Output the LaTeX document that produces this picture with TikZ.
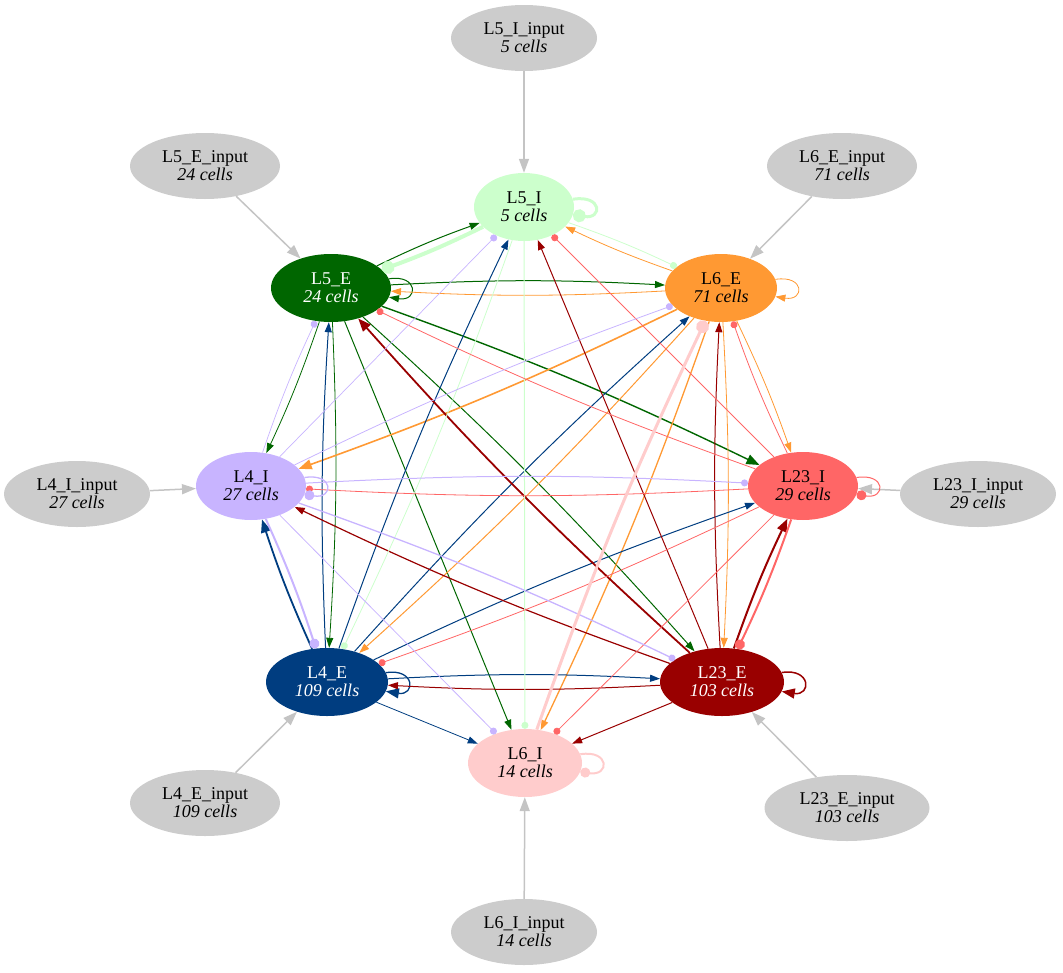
\documentclass[tikz,border=0pt]{standalone}
\usepackage{fontspec}
\setmainfont{Liberation Serif}
\usepackage{xcolor}
\usetikzlibrary{shapes.geometric,arrows.meta}

\definecolor{cL5I}{HTML}{CCFFCC}
\definecolor{cL5E}{HTML}{006600}
\definecolor{cL6E}{HTML}{FF9933}
\definecolor{cL4I}{HTML}{C8B4FF}
\definecolor{cL23I}{HTML}{FF6666}
\definecolor{cL4E}{HTML}{003D80}
\definecolor{cL23E}{HTML}{990000}
\definecolor{cL6I}{HTML}{FFCCCC}
\definecolor{cIn}{HTML}{CCCCCC}
\definecolor{cInLine}{HTML}{C4C4C4}

\begin{document}
\begin{tikzpicture}[x=1pt,y=1pt,
        pop/.style={ellipse,minimum height=68pt,inner sep=0pt,align=center,font=\fontsize{18}{18}\selectfont},
        feed/.style={pop,fill=cIn,minimum height=66pt},
        pair/.style={bend left=3},
        exc/.style={line width=1pt,-{Triangle[length=10pt,width=7pt]}},
        excm/.style={line width=1.8pt,-{Triangle[length=13pt,width=10pt]}},
        inh/.style={line width=0.8pt,-{Circle[length=7pt]}},
        inhm/.style={line width=1.6pt,-{Circle[length=10pt]}},
        inhb/.style={line width=3.5pt,-{Circle[length=13pt]}},
        feedline/.style={cInLine,line width=1.5pt,-{Triangle[length=14pt,width=10pt]}}]
    \useasboundingbox (0,0) rectangle (1063,-972);

    \node[pop,fill=cL5I,minimum width=100pt] (L5I) at (524,-207) {L5\_I\\\textit{5 cells}};
    \node[pop,fill=cL5E,text=white,minimum width=120pt] (L5E) at (331,-288) {L5\_E\\\textit{24 cells}};
    \node[pop,fill=cL6E,minimum width=112pt] (L6E) at (721,-288) {L6\_E\\\textit{71 cells}};
    \node[pop,fill=cL4I,minimum width=110pt] (L4I) at (251,-486) {L4\_I\\\textit{27 cells}};
    \node[pop,fill=cL23I,minimum width=110pt] (L23I) at (803,-486) {L23\_I\\\textit{29 cells}};
    \node[pop,fill=cL4E,text=white,minimum width=122pt] (L4E) at (327,-682) {L4\_E\\\textit{109 cells}};
    \node[pop,fill=cL23E,text=white,minimum width=124pt] (L23E) at (722,-682) {L23\_E\\\textit{103 cells}};
    \node[pop,fill=cL6I,minimum width=114pt] (L6I) at (525,-763) {L6\_I\\\textit{14 cells}};

    \node[feed,minimum width=146pt] (L5Iin) at (524,-38) {L5\_I\_input\\\textit{5 cells}};
    \node[feed,minimum width=150pt] (L5Ein) at (205,-166) {L5\_E\_input\\\textit{24 cells}};
    \node[feed,minimum width=150pt] (L6Ein) at (842,-166) {L6\_E\_input\\\textit{71 cells}};
    \node[feed,minimum width=146pt] (L4Iin) at (77,-494) {L4\_I\_input\\\textit{27 cells}};
    \node[feed,minimum width=156pt] (L23Iin) at (978,-494) {L23\_I\_input\\\textit{29 cells}};
    \node[feed,minimum width=150pt] (L4Ein) at (205,-803) {L4\_E\_input\\\textit{109 cells}};
    \node[feed,minimum width=165pt] (L23Ein) at (847,-808) {L23\_E\_input\\\textit{103 cells}};
    \node[feed,minimum width=146pt] (L6Iin) at (524,-932) {L6\_I\_input\\\textit{14 cells}};

    % inputs
    \draw[feedline] (L5Iin) -- (L5I);
    \draw[feedline] (L5Ein) -- (L5E);
    \draw[feedline] (L6Ein) -- (L6E);
    \draw[feedline] (L4Iin) -- (L4I);
    \draw[feedline] (L23Iin) -- (L23I);
    \draw[feedline] (L4Ein) -- (L4E);
    \draw[feedline] (L23Ein) -- (L23E);
    \draw[feedline] (L6Iin) -- (L6I);

    % excitatory
    \draw[exc,cL5E,pair] (L5E) to (L5I);
    \draw[exc,cL5E,pair] (L5E) to (L6E);
    \draw[excm,cL5E,pair,line width=1.4pt] (L5E) to (L23I);
    \draw[exc,cL5E,pair] (L5E) to (L23E);
    \draw[exc,cL5E] (L5E) to (L6I);
    \draw[exc,cL5E,pair,line width=0.8pt] (L5E) to (L4E);
    \draw[exc,cL5E,pair,line width=0.8pt] (L5E) to (L4I);
    \draw[exc,cL5E] (L5E.9) .. controls +(9:30) and +(-9:30) .. (L5E.-9);

    \draw[exc,cL6E,pair,line width=0.8pt] (L6E) to (L5I);
    \draw[exc,cL6E,pair,line width=0.8pt] (L6E) to (L5E);
    \draw[excm,cL6E,pair,line width=1.6pt] (L6E) to (L4I);
    \draw[exc,cL6E,pair] (L6E) to (L4E);
    \draw[exc,cL6E,pair,line width=1.3pt] (L6E) to (L6I);
    \draw[exc,cL6E,pair,line width=0.8pt] (L6E) to (L23E);
    \draw[exc,cL6E,pair,line width=0.8pt] (L6E) to (L23I);
    \draw[exc,cL6E,line width=0.8pt] (L6E.9) .. controls +(9:30) and +(-9:30) .. (L6E.-9);

    \draw[exc,cL4E,pair] (L4E) to (L5I);
    \draw[exc,cL4E,pair] (L4E) to (L5E);
    \draw[exc,cL4E,pair] (L4E) to (L6E);
    \draw[excm,cL4E,pair] (L4E) to (L4I);
    \draw[exc,cL4E,pair] (L4E) to (L23I);
    \draw[exc,cL4E,pair] (L4E) to (L23E);
    \draw[exc,cL4E,line width=0.8pt] (L4E) to (L6I);
    \draw[excm,cL4E,line width=1.3pt] (L4E.9) .. controls +(9:30) and +(-9:30) .. (L4E.-9);

    \draw[exc,cL23E] (L23E) to (L5I);
    \draw[excm,cL23E,pair] (L23E) to (L5E);
    \draw[exc,cL23E,pair] (L23E) to (L6E);
    \draw[exc,cL23E,pair,line width=1.2pt] (L23E) to (L4I);
    \draw[exc,cL23E,pair] (L23E) to (L4E);
    \draw[exc,cL23E] (L23E) to (L6I);
    \draw[excm,cL23E,pair,line width=2pt] (L23E) to (L23I);
    \draw[excm,cL23E,line width=1.5pt] (L23E.9) .. controls +(9:30) and +(-9:30) .. (L23E.-9);

    % inhibitory
    \draw[inhb,cL5I,pair,line width=4pt] (L5I) to (L5E);
    \draw[inh,cL5I,pair] (L5I) to (L6E);
    \draw[inh,cL5I,pair] (L5I) to (L4E);
    \draw[inh,cL5I,line width=1pt] (L5I) to (L6I);
    \draw[inhb,cL5I,line width=3pt] (L5I.9) .. controls +(9:30) and +(-9:30) .. (L5I.-9);

    \draw[inh,cL23I] (L23I) to (L5I);
    \draw[inh,cL23I,pair] (L23I) to (L5E);
    \draw[inh,cL23I,pair] (L23I) to (L6E);
    \draw[inh,cL23I,pair] (L23I) to (L4I);
    \draw[inh,cL23I,pair] (L23I) to (L4E);
    \draw[inh,cL23I] (L23I) to (L6I);
    \draw[inhm,cL23I,pair,line width=2pt] (L23I) to (L23E);
    \draw[inhm,cL23I,line width=1pt] (L23I.9) .. controls +(9:30) and +(-9:30) .. (L23I.-9);

    \draw[inh,cL4I,line width=0.7pt] (L4I) to (L5I);
    \draw[inh,cL4I,pair,line width=0.7pt] (L4I) to (L5E);
    \draw[inh,cL4I,pair] (L4I) to (L6E);
    \draw[inh,cL4I,pair,line width=1pt] (L4I) to (L23I);
    \draw[inhm,cL4I,pair,line width=2pt] (L4I) to (L4E);
    \draw[inh,cL4I,pair,line width=1.3pt] (L4I) to (L23E);
    \draw[inh,cL4I] (L4I) to (L6I);
    \draw[inhm,cL4I,line width=1.3pt] (L4I.9) .. controls +(9:30) and +(-9:30) .. (L4I.-9);

    \draw[inhb,cL6I,pair,line width=3pt] (L6I) to (L6E);
    \draw[inhm,cL6I,line width=2pt] (L6I.9) .. controls +(9:30) and +(-9:30) .. (L6I.-9);
\end{tikzpicture}
\end{document}
